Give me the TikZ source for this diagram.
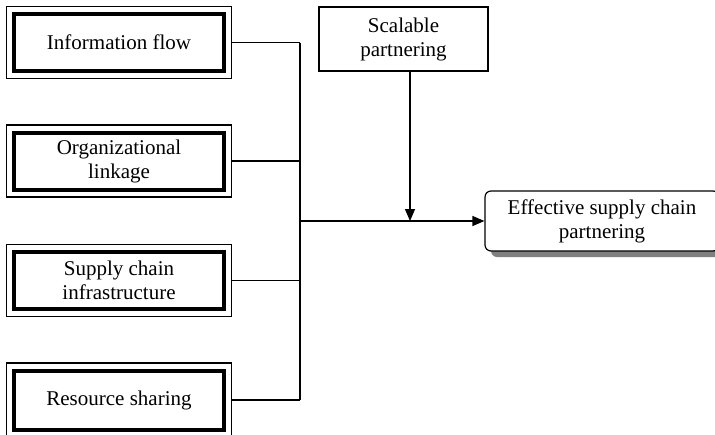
\documentclass[tikz,border=0pt]{standalone}
\usepackage{fontspec}
\setmainfont{Liberation Serif}
\usepackage{tikz}
\usetikzlibrary{positioning,arrows.meta,fit,shadows}

\begin{document}
\begin{tikzpicture}[x=0.5pt,y=-0.5pt,
  factor/.style={draw=black,line width=2pt,fill=white,minimum width=105pt,
    minimum height=28.5pt,align=center,font=\fontsize{10.5}{12}\selectfont},
  frame/.style={draw=black,line width=0.6pt,inner sep=2.75pt},
  moderator/.style={draw=black,line width=0.6pt,minimum width=84.5pt,
    minimum height=32pt,align=center,font=\fontsize{10.5}{12}\selectfont},
  outcome/.style={draw=black,line width=0.6pt,fill=white,rounded corners=3pt,
    minimum width=117pt,minimum height=30pt,align=center,
    font=\fontsize{10.5}{12}\selectfont,
    drop shadow={shadow xshift=3pt,shadow yshift=-3pt,fill=black!50,opacity=1}},
  wire/.style={draw=black,line width=0.6pt},
  link/.style={-{Triangle[length=6pt,width=5pt]},draw=black,line width=0.6pt}]
\useasboundingbox (0,0) rectangle (715,434);
\node[factor] (info) at (119,42.5) {Information flow};
\node[factor] (linkage) at (119,161) {Organizational\\linkage};
\node[factor] (infra) at (119,280.5) {Supply chain\\infrastructure};
\node[factor,minimum height=29.5pt] (share) at (119,400) {Resource sharing};
\foreach \n in {info,linkage,infra,share}
  \node[frame,fit=(\n)] (\n F) {};
\node[moderator] (scal) at (403.5,39) {Scalable\\partnering};
\node[outcome] (eff) at (602,221) {Effective supply chain\\partnering};
\coordinate (spine) at (300,221);
\coordinate (join) at (410,221);
% factors feed the spine
\foreach \n in {info,linkage,infra,share}
  \draw[wire] (\n F.east) -- (\n F.east -| spine);
\draw[wire] (infoF.east -| spine) -- (shareF.east -| spine);
\draw[link] (spine) -- (eff.west);
\draw[link] (scal.south -| join) -- (join);
\end{tikzpicture}
\end{document}
